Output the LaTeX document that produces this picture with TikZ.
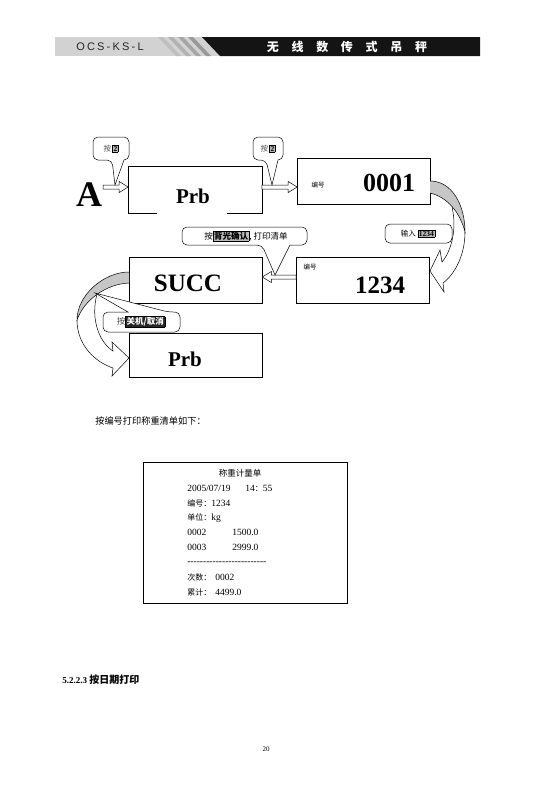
\documentclass[tikz,border=0pt]{standalone}
\usepackage{fontspec}
\setmainfont{Liberation Serif}
\newfontfamily\cjk{Noto Sans CJK SC}
\newfontfamily\hsans{Liberation Sans}
\usetikzlibrary{calc}
\newcommand\hlb[2][gray!55]{{\setlength\fboxsep{0.7pt}\setlength\fboxrule{0.5pt}\fcolorbox{black}{#1}{#2}}}
\newcommand\harrow[3]{%
  \draw[arrline] let \p1=(#1), \p2=(#2), \p3=(#3), \n1={ifthenelse(\x2>\x1,1,-1)} in
   (\x1,\y3+2pt) -- (\x2-\n1*9pt,\y3+2pt) -- (\x2-\n1*9pt,\y3+5.5pt) -- (\x2,\y3)
   -- (\x2-\n1*9pt,\y3-5.5pt) -- (\x2-\n1*9pt,\y3-2pt) -- (\x1,\y3-2pt) -- cycle;}
\newcommand\calloutdown[7]{%
  \draw[callout] (#7) -- (#6,#4) [rounded corners=5pt] -- (#3,#4) -- (#3,#2) -- (#1,#2) -- (#1,#4) -- (#5,#4) [sharp corners] -- cycle;}
\newcommand\fs[1]{\fontsize{#1}{#1}\selectfont}
\newcommand\ck[1]{{\cjk\fs{8}#1}}
\begin{document}
\begin{tikzpicture}[x=1pt,y=-1pt,line width=0.6pt,
  dbox/.style={draw,minimum width=133pt,minimum height=46pt,inner sep=0pt},
  arrline/.style={draw,fill=white,line width=0.5pt},
  callout/.style={draw,fill=white,line width=0.5pt},
  big/.style={font=\bfseries\fs{#1}},
  rline/.style={anchor=west,inner sep=0pt,font=\fs{9.5}}]
\useasboundingbox (0,0) rectangle (536,793);
\fill[white] (0,0) rectangle (536,793);

% ---------- header ----------
\fill[gray!35] (55,37) rectangle (222,56);
\foreach \s/\c in {158/gray!50,168/gray!60,178/gray!70,188/gray!80}
  \fill[\c] (\s,37) -- (\s+5,37) -- (\s+23,56) -- (\s+18,56) -- cycle;
\fill[black!92] (202,37) -- (480,37) -- (480,56) -- (220,56) -- cycle;
\node[text=black!85,font=\hsans\fs{11}\addfontfeatures{LetterSpace=20}] (hdl) at (110,47) {OCS-KS-L};
\node[text=white,font=\cjk\bfseries\fs{12}] (hdr) at (347,47)
  {无\hspace{12.7pt}线\hspace{12.7pt}数\hspace{12.7pt}传\hspace{12.7pt}式\hspace{12.7pt}吊\hspace{12.7pt}秤};

% ---------- display boxes ----------
\node[dbox,draw=none] (prb1) at (195,190) {};
\draw ([xshift=29pt]prb1.south west) -- (prb1.south west) -- (prb1.north west) -- (prb1.north east) -- (prb1.south east) -- ([xshift=-35pt]prb1.south east);
\node[dbox] (box2) at (364,181) {};
\node[dbox] (box3) at (363,280) {};
\node[dbox] (succ) at (195.5,280) {};
\node[dbox,minimum height=44pt] (prb2) at (195.5,355) {};

\node[big=21] (tprb1) at (193,196) {Prb};
\node[font=\cjk\fs{6.5}] (n2) at (318,185) {编号};
\node[big=26] (t0001) at (389,183) {0001};
\node[big=25] (tsucc) at (188,283) {SUCC};
\node[font=\cjk\fs{6.5}] (n3) at (310,267) {编号};
\node[big=25] (t1234) at (380,285) {1234};
\node[big=21] (tprb2) at (185,359) {Prb};
\node[big=36] (tA) at (89,195) {A};

% ---------- straight hollow arrows ----------
\coordinate (aS) at (103,187);
\coordinate (lv2) at (0,277);
\harrow{aS}{prb1.west}{aS}
\harrow{prb1.east}{box2.west}{aS}
\harrow{box3.west}{succ.east}{lv2}

% ---------- right curved arrow (box2 -> box3) ----------
\fill[white] (465,232) .. controls (465,255) and (455,274) .. (443,283) -- (444,292) -- (430,271) -- (440,250) -- (442,262)
   .. controls (452,250) and (457,228) .. (452,207) -- cycle;
\draw[line width=0.5pt] (465,232) .. controls (465,255) and (455,274) .. (443,283) -- (444,292) -- (430,271) -- (440,250) -- (442,262)
   .. controls (452,250) and (457,228) .. (452,207);
\draw[fill=gray!45,line width=0.5pt] (430,181) .. controls (452,181) and (465,205) .. (465,232)
   .. controls (460,212) and (447,197) .. (430,193);

% ---------- left curved arrow (succ -> prb2) ----------
\fill[white] (77,320) .. controls (77,345) and (95,362) .. (113,368) -- (112,376) -- (129,358) -- (112,342) -- (113,351)
   .. controls (100,343) and (90,320) .. (97,294) -- cycle;
\draw[line width=0.5pt] (77,320) .. controls (77,345) and (95,362) .. (113,368) -- (112,376) -- (129,358) -- (112,342) -- (113,351)
   .. controls (100,343) and (90,320) .. (97,294);
\draw[fill=gray!45,line width=0.5pt] (129,272) .. controls (104,272) and (77,295) .. (77,320)
   .. controls (84,300) and (106,284) .. (129,283);

% ---------- callouts ----------
\calloutdown{93}{137}{129}{160}{112}{124}{115,185}
\node[font=\fs{7.5}] (c1) at (111,148.5) {{\cjk\color{black!70}按}\,\hlb{\bfseries 2}};
\calloutdown{253}{137}{283}{160}{266}{278}{272,185}
\node[font=\fs{7.5}] (c2) at (268,148.5) {{\cjk\color{black!70}按}\,\hlb{\bfseries 2}};
\calloutdown{182}{227}{307}{245}{262}{290}{275,275}
\node[font=\cjk\fs{8.5}] (c3) at (246,236) {按\hlb{\bfseries 背光确认}, 打印清单};
\draw[callout,rounded corners=5pt] (385,224) rectangle (452,243);
\node[font=\fs{7.5}] (c4) at (418,233.5) {{\cjk 输入}\ \hlb{\bfseries 1234}};
\draw[callout] (95,293) -- (128,312) [rounded corners=5pt] -- (103,312) -- (103,332) -- (180,332) -- (180,312) -- (168,312) [sharp corners] -- cycle;
\node[font=\cjk\fs{8.5}] (c5) at (141,322) {{\color{black!70}按}\hlb[black!85]{\color{white}\bfseries 关机/取消}};

% ---------- text ----------
\node[anchor=west,inner sep=0pt,font=\cjk\fs{9.2}] (intro) at (95,421) {按编号打印称重清单如下：};

\node[draw,minimum width=204pt,minimum height=141pt,inner sep=0pt] (receipt) at (245,532.5) {};
\node[inner sep=0pt,font=\cjk\fs{8.5}] (r0) at (240,473) {称重计量单};
\node[rline] (r1a) at (187,488) {2005/07/19};
\node[rline] (r1b) at (245,488) {14\ck{：}55};
\node[rline] (r2) at (187,503) {\ck{编号：}1234};
\node[rline] (r3) at (187,518) {\ck{单位：}kg};
\node[rline] (r4a) at (187,532) {0002};
\node[rline] (r4b) at (232,532) {1500.0};
\node[rline] (r5a) at (187,547) {0003};
\node[rline] (r5b) at (232,547) {2999.0};
\node[rline] (r6) at (187,563) {-{}-{}-{}-{}-{}-{}-{}-{}-{}-{}-{}-{}-{}-{}-{}-{}-{}-{}-{}-{}-{}-{}-{}-{}-{}};
\node[rline] (r7a) at (187,577) {\ck{次数：}};
\node[rline] (r7b) at (215,577) {0002};
\node[rline] (r8a) at (187,592) {\ck{累计：}};
\node[rline] (r8b) at (215,592) {4499.0};

\node[anchor=west,inner sep=0pt,font=\fs{9}] (sec) at (62,680) {\bfseries 5.2.2.3 {\cjk\fs{10}按日期打印}};
\node[font=\fs{7}] (pg) at (266,749) {20};
\end{tikzpicture}
\end{document}
